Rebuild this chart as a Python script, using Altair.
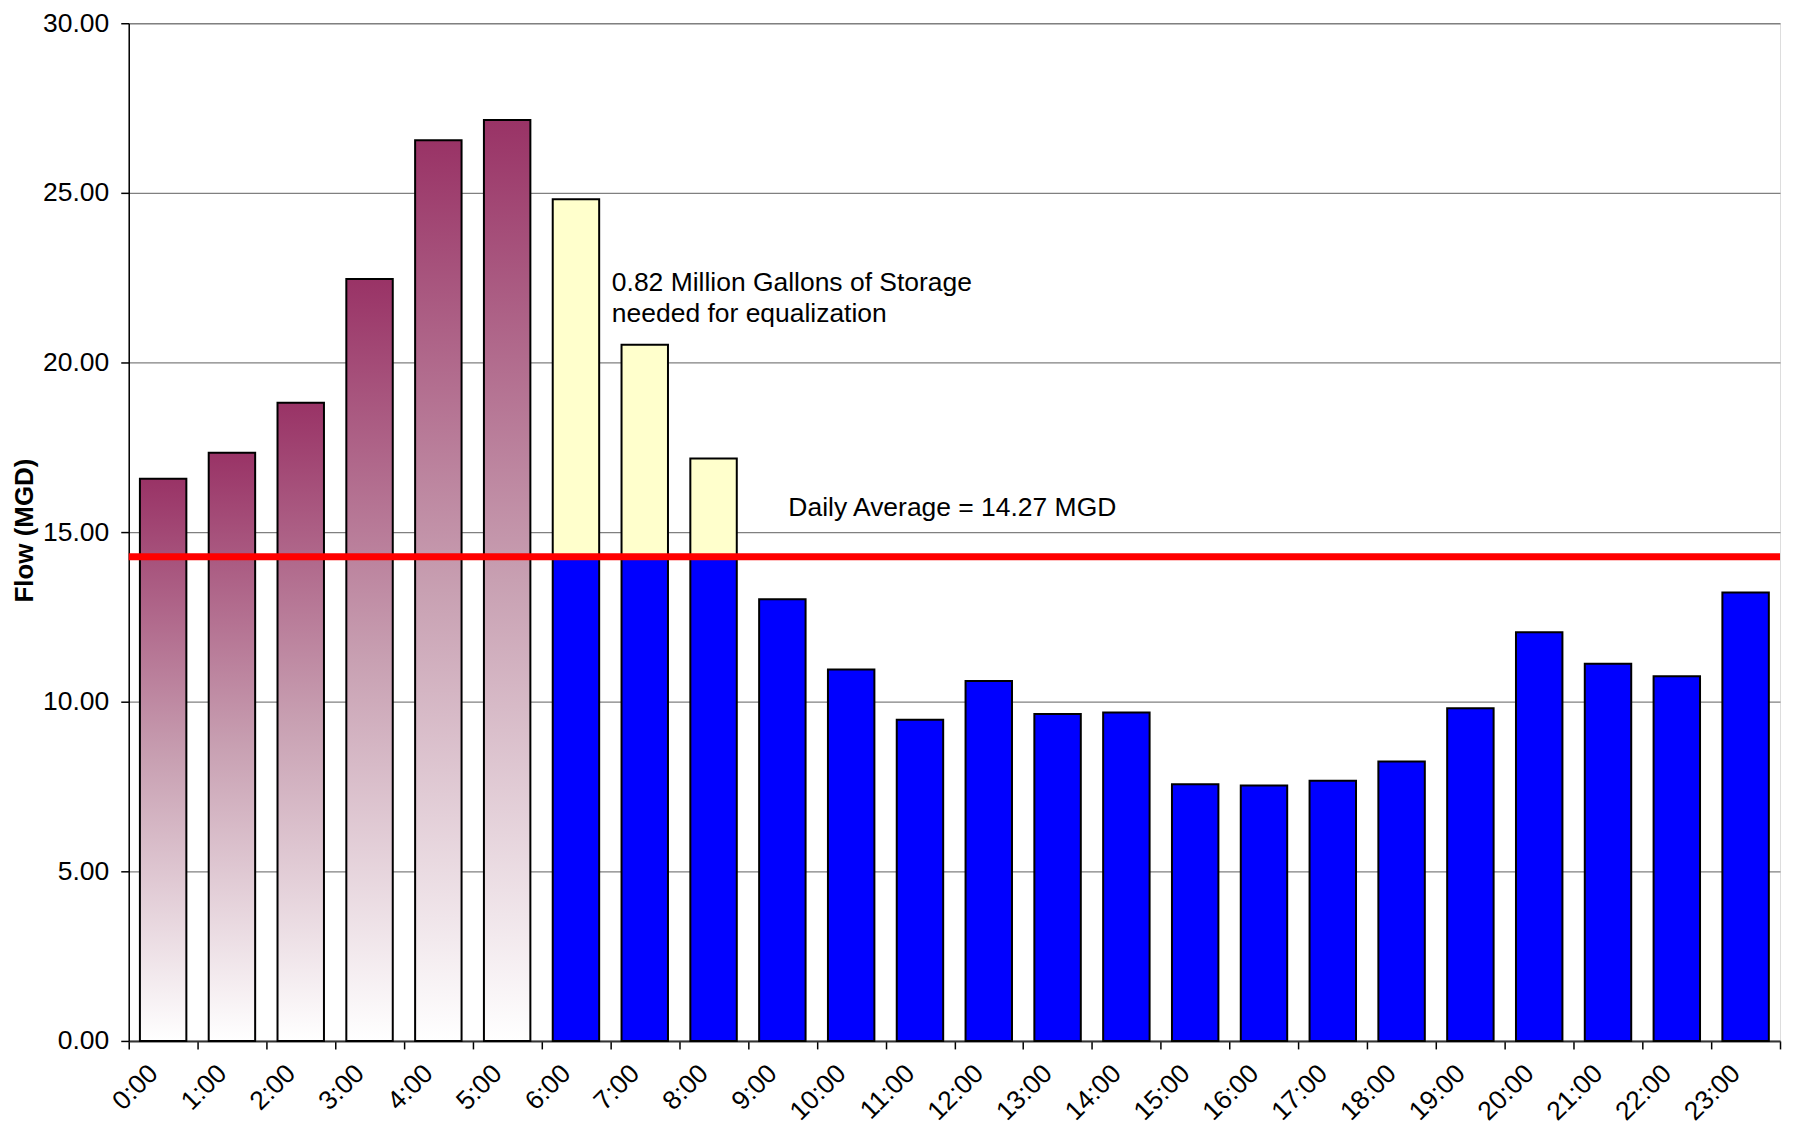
import altair as alt
import pandas as pd

hours = [f"{h}:00" for h in range(24)]
flow = [16.57, 17.34, 18.81, 22.46, 26.55, 27.15, 24.81, 20.52, 17.17, 13.02,
        10.95, 9.47, 10.61, 9.64, 9.68, 7.57, 7.53, 7.67, 8.24, 9.81,
        12.05, 11.12, 10.75, 13.22]
average = 14.27
peak_hours = hours[:6]
storage_hours = hours[6:9]

FONT = "Liberation Sans"
FS = 26.5

# build segments
peak_rows = [{"hour": h, "y0": 0, "y1": v} for h, v in zip(hours, flow) if h in peak_hours]
blue_rows = []
yellow_rows = []
for h, v in zip(hours, flow):
    if h in peak_hours:
        continue
    if h in storage_hours:
        blue_rows.append({"hour": h, "y0": 0, "y1": average})
        yellow_rows.append({"hour": h, "y0": average, "y1": v})
    else:
        blue_rows.append({"hour": h, "y0": 0, "y1": v})

ann_text = ["0.82 Million Gallons of Storage", "needed for equalization", "Daily Average = 14.27 MGD"]
ann_hour = ["6:00", "6:00", "9:00"]
ann_y = [22.10, 21.19, 15.48]
ann_dx = [36, 36, 6]

x_enc = alt.X(
    "hour:N",
    scale=alt.Scale(domain=hours, paddingInner=0, paddingOuter=0),
    axis=alt.Axis(
        title=None, grid=False, tickBand="extent", ticks=True, tickSize=8,
        tickColor="#000000", tickWidth=1.5, domainColor="#333333", domainWidth=2,
        labelAngle=-45, labelAlign="right", labelBaseline="middle",
        labelPadding=20, labelOffset=-10, labelFont=FONT, labelFontSize=FS,
        labelColor="#000000",
    ),
)
y_scale = alt.Scale(domain=[0, 30], nice=False, zero=True)
y_enc = alt.Y(
    "y0:Q",
    scale=y_scale,
    axis=alt.Axis(
        title="Flow (MGD)", values=[0, 5, 10, 15, 20, 25, 30], format=".2f",
        grid=True, gridColor="#808080", gridWidth=1.3,
        tickSize=8, tickColor="#000000", tickWidth=1.5,
        domainColor="#000000", domainWidth=1.5,
        labelFont=FONT, labelFontSize=FS, labelColor="#000000", labelPadding=12,
        titleFont=FONT, titleFontSize=26, titleFontWeight="bold", titleColor="#000000",
        titleX=-104, titleY=508, titleAngle=270, titleAlign="center", titleBaseline="middle",
    ),
)

grad = alt.Gradient(
    gradient="linear",
    stops=[
        alt.GradientStop(color="#993366", offset=0),
        alt.GradientStop(color="#c8a0b2", offset=0.5),
        alt.GradientStop(color="#ffffff", offset=1),
    ],
    x1=0, x2=0, y1=0, y2=1,
)

BAR_W = alt.RelativeBandSize(0.675)

peak = alt.Chart(pd.DataFrame(peak_rows)).mark_bar(
    color=grad, stroke="#000000", strokeWidth=2, width=BAR_W
).encode(x=x_enc, y=y_enc, y2="y1:Q")

blue = alt.Chart(pd.DataFrame(blue_rows)).mark_bar(
    color="#0000FF", stroke="#000000", strokeWidth=2, width=BAR_W
).encode(x=alt.X("hour:N"), y=alt.Y("y0:Q"), y2="y1:Q")

yellow = alt.Chart(pd.DataFrame(yellow_rows)).mark_bar(
    color="#FFFFCC", stroke="#000000", strokeWidth=2, width=BAR_W
).encode(x=alt.X("hour:N"), y=alt.Y("y0:Q"), y2="y1:Q")

avg_line = alt.Chart(pd.DataFrame({"avg": [average]})).mark_rule(
    color="#FF0000", strokeWidth=7
).encode(y=alt.Y("avg:Q"))

ann_df = pd.DataFrame({"hour": ann_hour, "y": ann_y, "text": ann_text})
ann_layers = []
for i in range(len(ann_text)):
    ann_layers.append(
        alt.Chart(ann_df.iloc[[i]]).mark_text(
            align="left", baseline="alphabetic", font=FONT, fontSize=FS,
            color="#000000", dx=ann_dx[i]
        ).encode(x=alt.X("hour:N"), y=alt.Y("y:Q"), text="text:N")
    )

chart = alt.layer(peak, blue, yellow, avg_line, *ann_layers).properties(
    width=1655, height=1020,
    autosize=alt.AutoSizeParams(type="none"),
    padding={"left": 121, "top": 14, "right": 5, "bottom": 88},
).configure_view(
    stroke="#808080", strokeWidth=2.5
).configure(background="#ffffff")

chart.save("out.html", embed_options={"renderer": "svg", "actions": False})
